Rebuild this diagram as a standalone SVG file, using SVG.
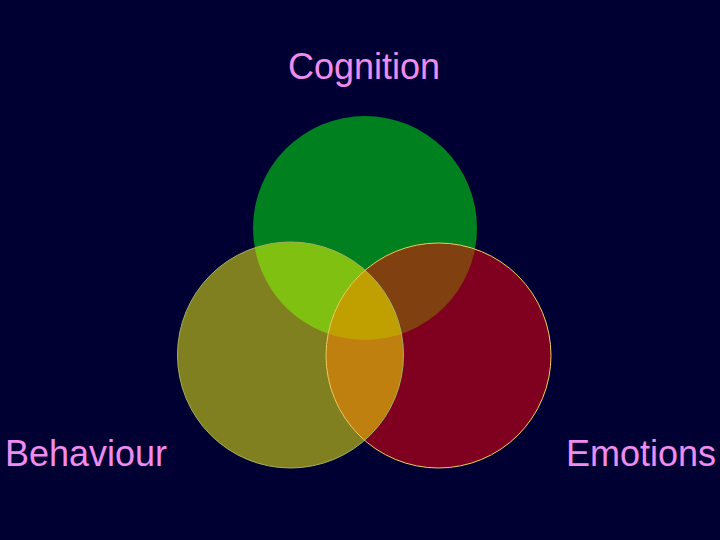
<svg xmlns="http://www.w3.org/2000/svg" width="720" height="540" viewBox="0 0 720 540">
<style>
.lbl{font-family:"Liberation Sans",Arial,sans-serif;font-size:36px;fill:#f08cf0}
</style>
<defs>
<clipPath id="cG"><circle cx="365" cy="228" r="112"/></clipPath>
<clipPath id="cB"><circle cx="290.5" cy="355" r="113"/></clipPath>
<clipPath id="cE"><circle cx="438.5" cy="355.5" r="112.5"/></clipPath>
</defs>
<rect width="720" height="540" fill="#000033"/>
<g id="cognition">
<circle cx="365" cy="228" r="112" fill="#00801f"/>
<text class="lbl" x="364" y="79" text-anchor="middle">Cognition</text>
</g>
<g id="behaviour">
<circle cx="290.5" cy="355" r="113" fill="#808020"/>
<text class="lbl" x="5" y="466">Behaviour</text>
</g>
<g id="emotions">
<circle cx="438.5" cy="355.5" r="112.5" fill="#800020"/>
<text class="lbl" x="566" y="466">Emotions</text>
</g>
<g id="overlaps">
<g clip-path="url(#cG)"><circle cx="290.5" cy="355" r="113" fill="#80c010"/></g>
<g clip-path="url(#cG)"><circle cx="438.5" cy="355.5" r="112.5" fill="#804010"/></g>
<g clip-path="url(#cB)"><circle cx="438.5" cy="355.5" r="112.5" fill="#c08010"/></g>
<g clip-path="url(#cG)"><g clip-path="url(#cB)"><circle cx="438.5" cy="355.5" r="112.5" fill="#c0a000"/></g></g>
</g>
<g id="outlines" fill="none">
<circle cx="290.5" cy="355" r="113" stroke="#a0b060" stroke-width="1"/>
<circle cx="438.5" cy="355.5" r="112.5" stroke="#e8d060" stroke-width="1"/>
</g>
</svg>
